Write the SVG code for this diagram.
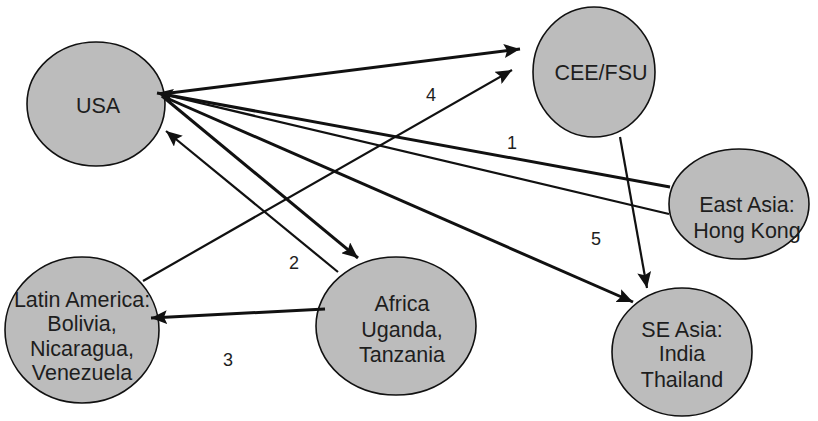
<svg xmlns="http://www.w3.org/2000/svg" width="818" height="421" viewBox="0 0 818 421">
  <style>
    .node ellipse { fill: #bcbcbc; stroke: #111; stroke-width: 1.6; }
    .node text, .lbl { font-family: "Liberation Sans", Arial, sans-serif; font-size: 21.5px; fill: #1e1e1e; text-anchor: middle; }
    .lbl { font-size: 18px; }
    .edge { stroke: #111; fill: none; stroke-width: 3; }
    .thin { stroke-width: 2.2; }
  </style>
  <defs>
    <marker id="arrow" markerUnits="userSpaceOnUse" markerWidth="18" markerHeight="14" refX="16" refY="7" orient="auto">
      <path d="M0,0 L16,7 L0,14 L3,7 Z" fill="#111"/>
    </marker>
  </defs>
  <rect width="818" height="421" fill="#ffffff"/>

  <g id="usa" class="node">
    <ellipse cx="96" cy="104" rx="69" ry="62"/>
    <text x="98" y="113">USA</text>
  </g>
  <g id="cee-fsu" class="node">
    <ellipse cx="594" cy="72" rx="61" ry="65"/>
    <text x="601" y="80">CEE/FSU</text>
  </g>
  <g id="east-asia" class="node">
    <ellipse cx="739" cy="204" rx="70" ry="55"/>
    <text x="747" y="212">East Asia:</text>
    <text x="747" y="238">Hong Kong</text>
  </g>
  <g id="latin-america" class="node">
    <ellipse cx="82" cy="330" rx="77" ry="73"/>
    <text x="82" y="307">Latin America:</text>
    <text x="82" y="331">Bolivia,</text>
    <text x="82" y="356">Nicaragua,</text>
    <text x="82" y="380">Venezuela</text>
  </g>
  <g id="africa" class="node">
    <ellipse cx="396" cy="326" rx="80" ry="69"/>
    <text x="402" y="311">Africa</text>
    <text x="402" y="337">Uganda,</text>
    <text x="402" y="362">Tanzania</text>
  </g>
  <g id="se-asia" class="node">
    <ellipse cx="682" cy="352" rx="70" ry="64"/>
    <text x="682" y="337">SE Asia:</text>
    <text x="682" y="361">India</text>
    <text x="682" y="387">Thailand</text>
  </g>

  <g id="connectors">
    <line class="edge" x1="162" y1="94" x2="520" y2="49" marker-end="url(#arrow)"/>
    <line class="edge thin" x1="143" y1="281" x2="512" y2="70" marker-end="url(#arrow)"/>
    <line class="edge" x1="670" y1="187" x2="157" y2="93" marker-end="url(#arrow)"/>
    <line class="edge thin" x1="669" y1="214" x2="162" y2="94"/>
    <line class="edge" x1="162" y1="96" x2="358" y2="258" marker-end="url(#arrow)"/>
    <line class="edge thin" x1="338" y1="272" x2="166" y2="131" marker-end="url(#arrow)"/>
    <line class="edge" x1="162" y1="96" x2="633" y2="302" marker-end="url(#arrow)"/>
    <line class="edge thin" x1="620" y1="137" x2="647" y2="288" marker-end="url(#arrow)"/>
    <line class="edge" x1="325" y1="309" x2="151" y2="318" marker-end="url(#arrow)"/>
  </g>

  <g id="labels">
    <text class="lbl" x="512" y="149">1</text>
    <text class="lbl" x="294" y="269">2</text>
    <text class="lbl" x="228" y="366">3</text>
    <text class="lbl" x="431" y="101">4</text>
    <text class="lbl" x="596" y="245">5</text>
  </g>
</svg>
